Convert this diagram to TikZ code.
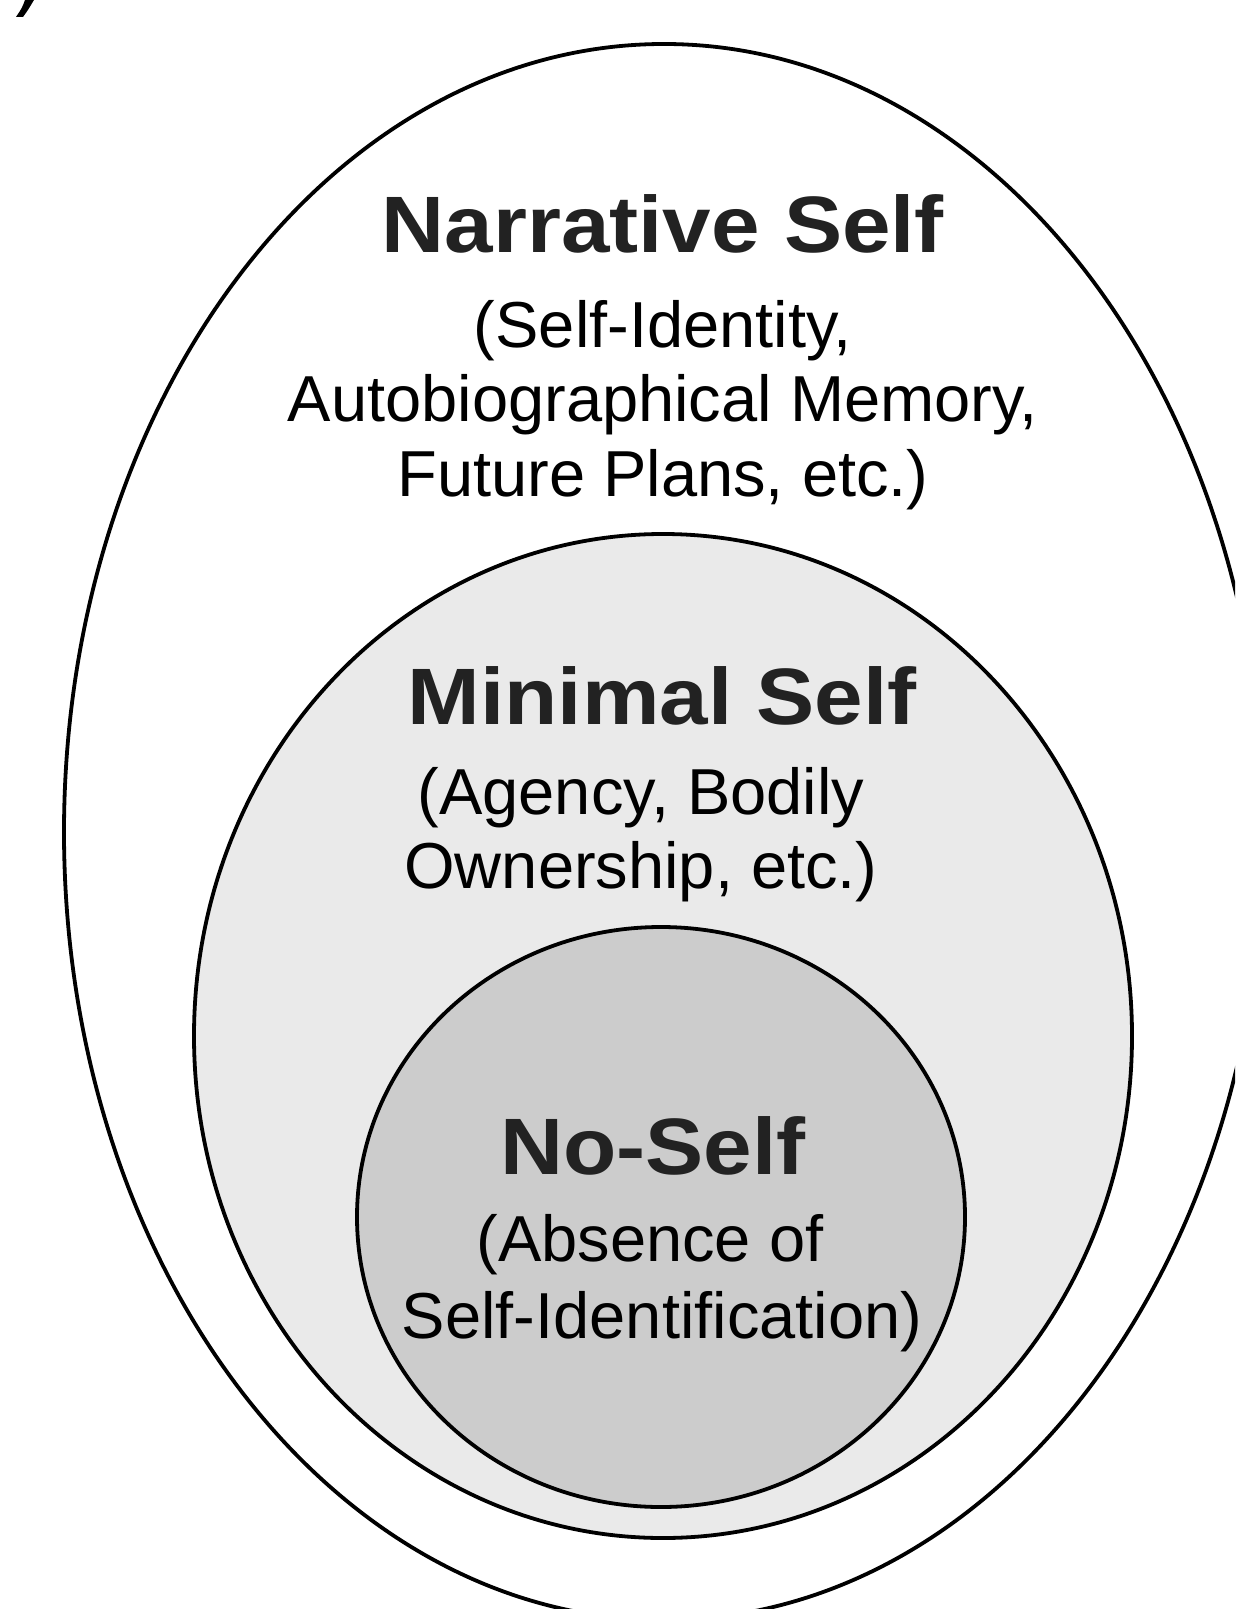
\documentclass[tikz,border=0pt]{standalone}
\usepackage{fontspec}
\setmainfont{Liberation Sans}
\newfontfamily\headfont{Liberation Sans}[FakeStretch=1.09]
\usetikzlibrary{positioning}
\definecolor{selfDark}{HTML}{222222}
\definecolor{selfLight}{HTML}{EAEAEA}
\definecolor{selfMid}{HTML}{CCCCCC}
\tikzset{
  % pixel-like units, y pointing down
  every picture/.append style = {x=0.5pt, y=-0.5pt},
  ring/.style     = {draw=black, line width=1.9pt},
  headlbl/.style  = {anchor=base, inner sep=0pt, selfDark,
                     font=\headfont\bfseries\fontsize{40}{44}\selectfont},
  sublbl/.style   = {anchor=base, inner sep=0pt, black,
                     font=\fontsize{32.5}{36}\selectfont},
}
\begin{document}
\begin{tikzpicture}
  \useasboundingbox (0,0) rectangle (1235,1609);
  \clip (0,0) rectangle (1235,1609);
  % stray glyph at the corner
  \fill (16,17) -- (23,17) .. controls (28,10) .. (34,0) -- (25,0) .. controls (22,8) .. (16,17) -- cycle;
  % nested selves
  \draw[ring, fill=white] (664,832) ellipse (600 and 788);
  \draw[ring, fill=selfLight] (663,1036) ellipse (469 and 502);
  \draw[ring, fill=selfMid] (661,1217) ellipse (304 and 290);
  % narrative self
  \node[headlbl] (narTitle) at (663,253) {Narrative Self};
  \node[sublbl] (narA) at (663,348) {(Self-Identity,};
  \node[sublbl] (narB) at (663,422) {Autobiographical Memory,};
  \node[sublbl] (narC) at (663,496) {Future Plans, etc.)};
  % minimal self
  \node[headlbl] (minTitle) at (662,724) {Minimal Self};
  \node[sublbl] (minA) at (641,814) {(Agency, Bodily};
  \node[sublbl] (minB) at (641,888) {Ownership, etc.)};
  % no-self
  \node[headlbl] (noTitle) at (653,1174) {No-Self};
  \node[sublbl] (noA) at (650,1261) {(Absence of};
  \node[sublbl] (noB) at (662,1338) {Self-Identification)};
\end{tikzpicture}
\end{document}
